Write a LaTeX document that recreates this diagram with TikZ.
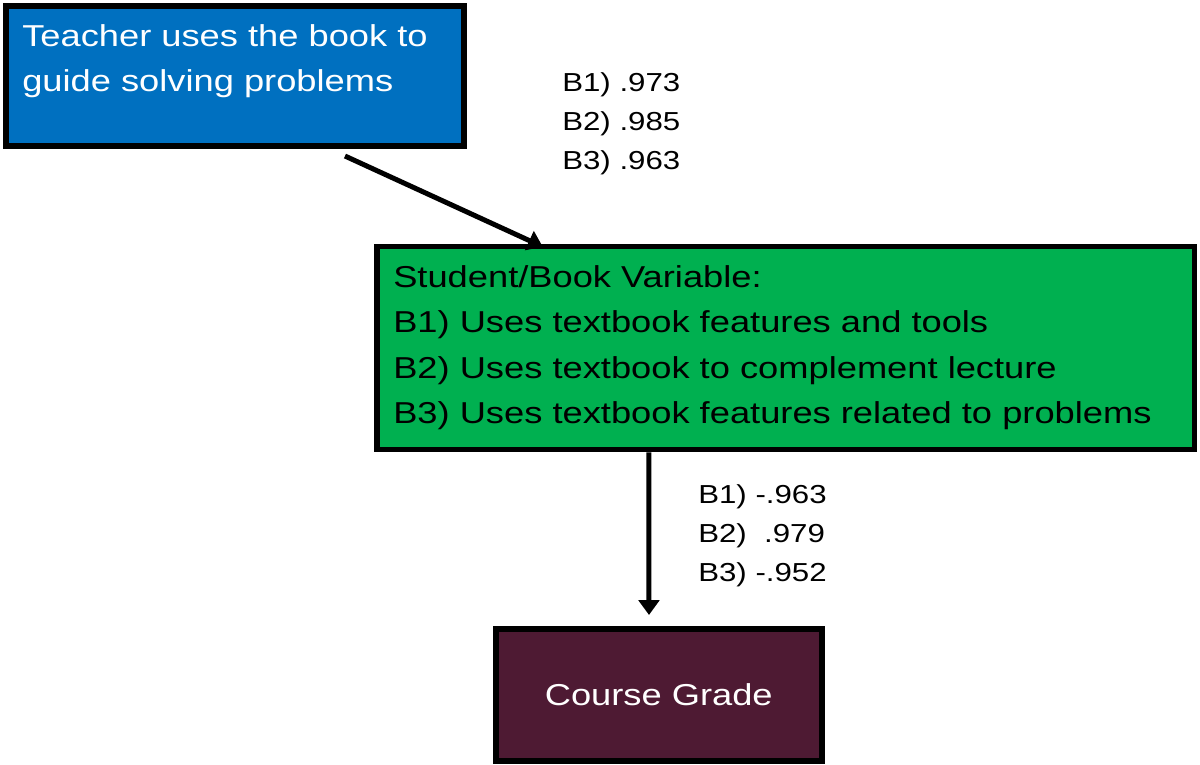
\documentclass[tikz,border=0pt]{standalone}
\usepackage{fontspec}
\setmainfont{Liberation Sans}[FakeStretch=1.2]
\usepackage{tikz}
\usetikzlibrary{arrows.meta,calc}
\definecolor{boxblue}{HTML}{0070C0}
\definecolor{boxgreen}{HTML}{00B050}
\definecolor{boxmaroon}{HTML}{4E1A33}
\tikzstyle{none}=[inner sep=0pt, align=left, anchor=north west]
\tikzstyle{box}=[draw=black, rectangle, inner sep=0pt, line width=4.27pt]
\tikzstyle{big}=[font=\fontsize{21.5pt}{32.3pt}\selectfont]
\tikzstyle{small}=[font=\fontsize{18.5pt}{27.7pt}\selectfont]
\tikzstyle{link}=[line width=3.56pt, -{Triangle[width=14.5pt,length=10.5pt]}]

\begin{document}
\begin{tikzpicture}[x=0.025cm, y=-0.025cm]
                \useasboundingbox (0, 0) rectangle (1200, 764);
                \node [style=box, fill=boxblue, minimum width=11.425cm, minimum height=3.5cm] (0) at (235, 76) {};
                \node [style=none, style=big, text=white] (1) at (22, 24) {Teacher uses the book to\\guide solving problems};
                \node [style=box, fill=boxgreen, line width=3.9pt, minimum width=20.44cm, minimum height=5.075cm] (2) at (785.75, 348) {};
                \node [style=none, style=big] (3) at (393, 265) {Student/Book Variable:\\B1) Uses textbook features and tools\\B2) Uses textbook to complement lecture\\B3) Uses textbook features related to problems};
                \node [style=box, fill=boxmaroon, text=white, style=big, minimum width=8.1375cm, minimum height=3.3cm] (4) at (658.75, 695) {Course Grade};
                \node [style=none, style=small] (5) at (562, 72) {B1) .973\\B2) .985\\B3) .963};
                \node [style=none, style=small] (6) at (698, 484) {B1) -.963\\B2)\ \ .979\\B3) -.952};
                \draw [style=link] ($(0.south)+(110, 7)$) to ($(2.north)+(-243, 3)$);
                \draw [style=link] ($(2.south)+(-137, 0)$) to ($(4.north)+(-9.75, -11)$);
    \end{tikzpicture}
\end{document}
